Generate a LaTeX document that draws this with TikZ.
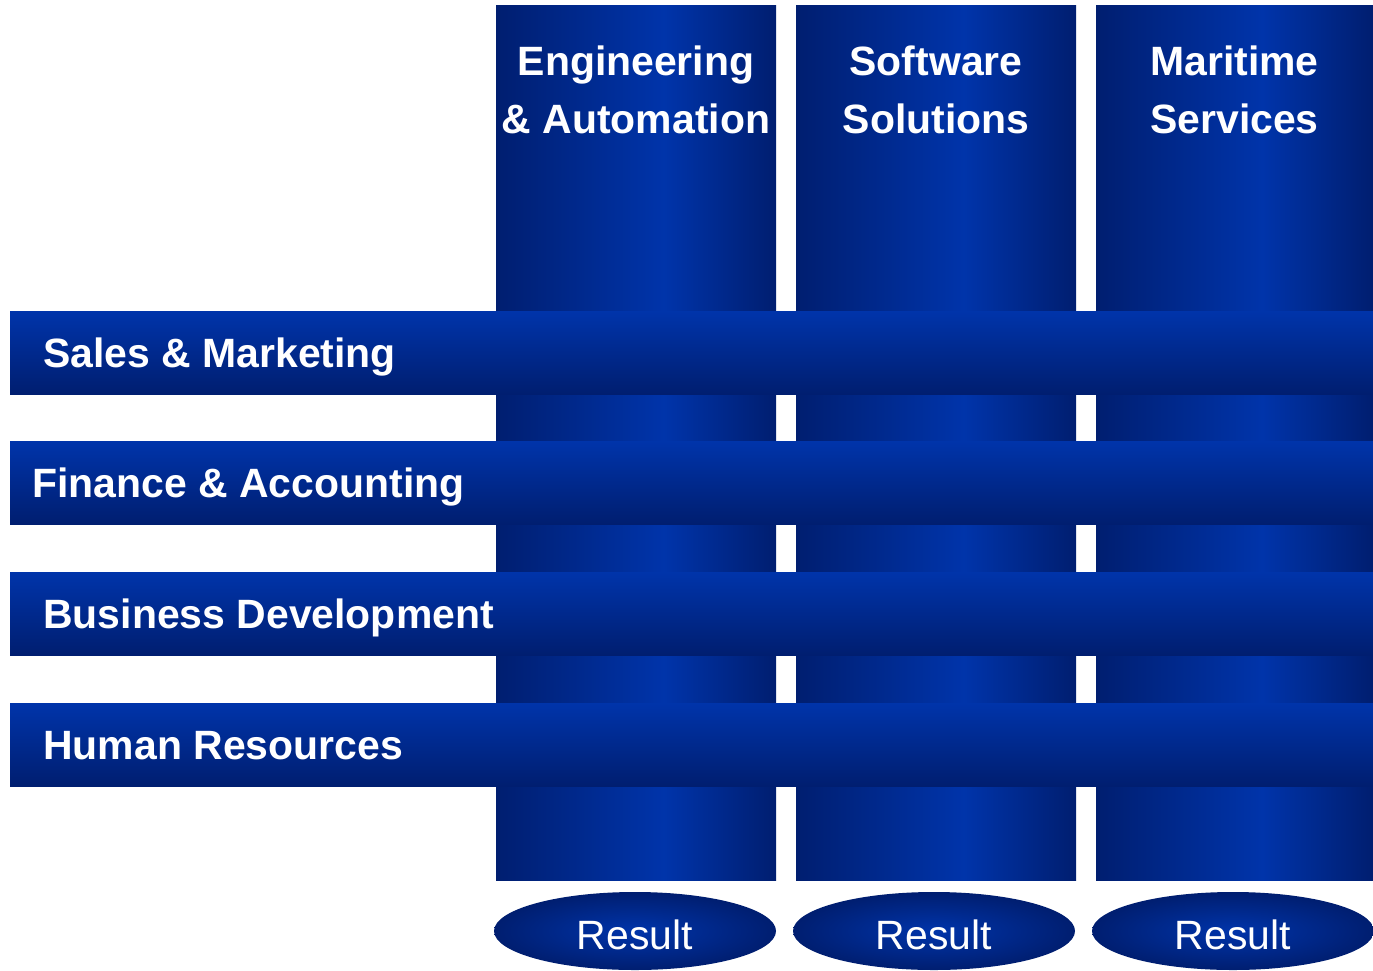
\documentclass[tikz,border=0pt]{standalone}
\usepackage{fontspec}
\setmainfont{Liberation Sans}
\usetikzlibrary{shapes.geometric}
\definecolor{blight}{RGB}{0,52,170}
\definecolor{bdark}{RGB}{0,30,112}
\pgfdeclarehorizontalshading{colshade}{100bp}{color(0bp)=(bdark); color(25bp)=(bdark); color(55bp)=(blight); color(75bp)=(bdark); color(100bp)=(bdark)}
\tikzset{
  column/.style={shading=colshade, minimum height=17.48cm, inner sep=0pt, outer sep=0pt},
  unit/.style={top color=blight, bottom color=bdark, minimum width=27.26cm, minimum height=1.66cm, inner sep=0pt, outer sep=0pt},
  result/.style={ellipse, shading=radial, inner color=blight, outer color=bdark, minimum width=5.64cm, minimum height=1.56cm, inner sep=0pt, text height=0.74cm, text depth=0pt, text=white, font=\fontsize{23.3}{28}\selectfont},
  coltitle/.style={align=center, anchor=base, text=white, font=\fontsize{23.3}{33}\selectfont\bfseries},
  rowtitle/.style={anchor=base west, inner sep=0pt, text=white, font=\fontsize{23.3}{28}\selectfont\bfseries}
}
\begin{document}
\begin{tikzpicture}
 \useasboundingbox (0,0) rectangle (27.46,-19.4);
 % divisions
 \node[column, minimum width=5.6cm] (eng) at (12.72,-8.86) {};
 \node[column, minimum width=5.6cm] (soft) at (18.72,-8.86) {};
 \node[column, minimum width=5.54cm] (mar) at (24.69,-8.86) {};
 \node[coltitle] (engt) at (12.72,-2.67) {Engineering\\\& Automation};
 \node[coltitle] (softt) at (18.72,-2.67) {Software\\Solutions};
 \node[coltitle] (mart) at (24.69,-2.67) {Maritime\\Services};
 % functions
 \node[unit] (sales) at (13.83,-7.05) {};
 \node[unit] (fin) at (13.83,-9.65) {};
 \node[unit] (bus) at (13.83,-12.27) {};
 \node[unit] (hr) at (13.83,-14.89) {};
 \node[rowtitle] (salest) at (0.86,-7.34) {Sales \& Marketing};
 \node[rowtitle] (fint) at (0.64,-9.94) {Finance \& Accounting};
 \node[rowtitle] (bust) at (0.86,-12.56) {Business Development};
 \node[rowtitle] (hrt) at (0.86,-15.18) {Human Resources};
 % results
 \node[result] (engr) at (12.70,-18.62) {Result};
 \node[result] (softr) at (18.68,-18.62) {Result};
 \node[result] (marr) at (24.66,-18.62) {Result};
\end{tikzpicture}
\end{document}
